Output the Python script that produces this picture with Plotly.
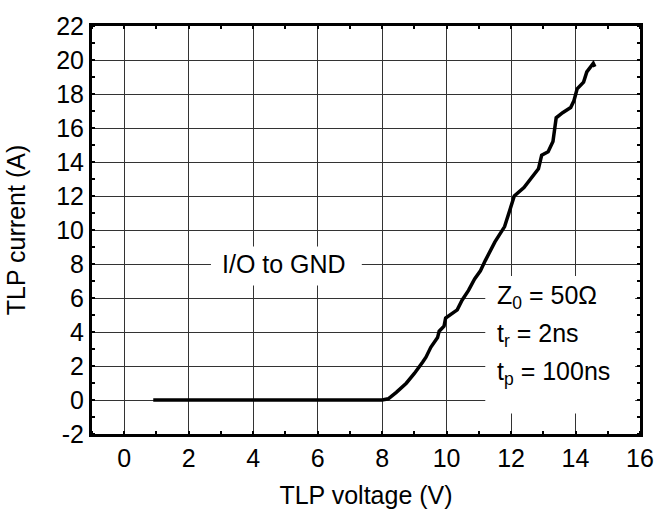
import plotly.graph_objects as go

# TLP I-V curve (I/O to GND)
voltage = [0.9, 2.0, 4.0, 6.0, 8.0, 8.19, 8.44, 8.75, 9.0, 9.26, 9.36, 9.51, 9.72, 9.77, 9.92, 9.97,
           10.12, 10.33, 10.48, 10.68, 10.87, 11.05, 11.2, 11.5, 11.8, 11.9, 12.0, 12.1, 12.4, 12.6,
           12.85, 12.95, 13.15, 13.3, 13.35, 13.4, 13.6, 13.85, 13.95, 14.05, 14.25, 14.35, 14.55, 14.6]
current = [0.0, 0.0, 0.0, 0.0, 0.0, 0.07, 0.45, 0.99, 1.56, 2.24, 2.52, 3.10, 3.67, 4.05, 4.34, 4.82,
           5.01, 5.30, 5.87, 6.45, 7.12, 7.6, 8.2, 9.3, 10.2, 10.8, 11.5, 12.0, 12.5, 13.0,
           13.6, 14.4, 14.6, 15.2, 15.9, 16.6, 16.9, 17.2, 17.6, 18.3, 18.7, 19.3, 19.8, 19.6]

x_ticks = [0, 2, 4, 6, 8, 10, 12, 14, 16]
y_ticks = [-2, 0, 2, 4, 6, 8, 10, 12, 14, 16, 18, 20, 22]

FONT = "Liberation Sans, Arial, sans-serif"
FS = 25

fig = go.Figure()
fig.add_trace(go.Scatter(x=voltage, y=current, mode="lines",
                         line=dict(color="black", width=3.5), showlegend=False))

# white label boxes covering the grid
fig.add_shape(type="rect", xref="x", yref="y", x0=2.69, x1=7.37, y0=6.74, y1=9.03,
              fillcolor="white", line=dict(width=0), layer="between")
fig.add_shape(type="rect", xref="x", yref="y", x0=11.2, x1=15.85, y0=-0.8, y1=7.3,
              fillcolor="white", line=dict(width=0), layer="between")

fig.add_annotation(x=4.95, y=8, xref="x", yref="y", text="I/O to GND", showarrow=False,
                   font=dict(size=FS, color="black", family=FONT))
for txt, yv in [("Z<sub>0</sub> = 50Ω", 6.05), ("t<sub>r</sub> = 2ns", 3.85), ("t<sub>p</sub> = 100ns", 1.6)]:
    fig.add_annotation(x=11.5, y=yv, xref="x", yref="y", text=txt, showarrow=False,
                       xanchor="left", font=dict(size=FS, color="black", family=FONT))

axis_common = dict(showline=True, linecolor="black", linewidth=3, mirror="allticks",
                   showgrid=True, gridcolor="#333333", gridwidth=1, zeroline=False,
                   ticks="", tickfont=dict(size=FS, color="black", family=FONT),
                   minor=dict(ticks="inside", ticklen=3, tickwidth=2, tickcolor="black", dtick=1, showgrid=False))

fig.update_xaxes(range=[-1, 16], tickvals=x_ticks, ticktext=[str(v) for v in x_ticks],
                 title=dict(text="TLP voltage (V)", font=dict(size=FS, color="black", family=FONT), standoff=16),
                 **axis_common)
fig.update_yaxes(range=[-2, 22], tickvals=y_ticks, ticktext=[str(v) for v in y_ticks],
                 title=dict(text="TLP current (A)", font=dict(size=FS, color="black", family=FONT), standoff=24),
                 **axis_common)

fig.update_layout(width=666, height=518, margin=dict(l=92, r=18, t=25, b=76),
                  plot_bgcolor="white", paper_bgcolor="white",
                  font=dict(family=FONT, color="black"))

fig.write_html("out.html", config={"displayModeBar": False},
               post_script="document.body.style.margin='0';")
